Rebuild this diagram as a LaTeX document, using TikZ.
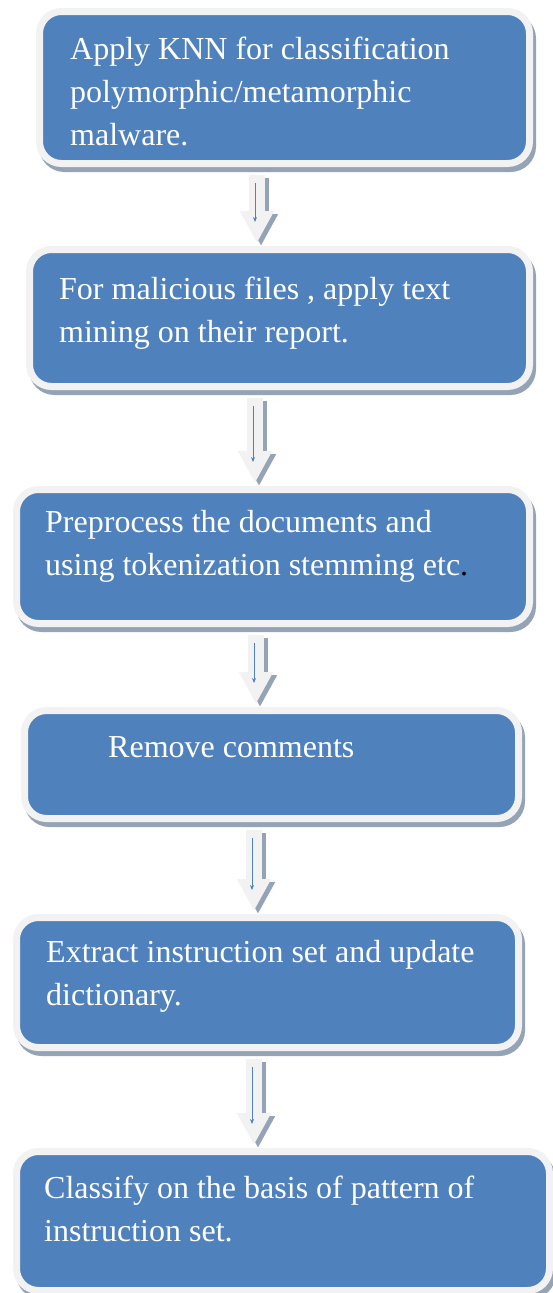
\documentclass[tikz,border=0pt]{standalone}
\usepackage{fontspec}
\setmainfont{Liberation Serif}
\usetikzlibrary{arrows.meta}
\definecolor{boxblue}{HTML}{4F81BD}
\definecolor{rimgray}{HTML}{F2F2F2}
\definecolor{shadegray}{HTML}{95A3B6}
\tikzset{stepbox/.style={rectangle,rounded corners=22pt,draw=rimgray,line width=7pt,fill=boxblue,
		 preaction={draw=shadegray,fill=shadegray,transform canvas={xshift=3pt,yshift=-5pt}}}}
\tikzset{steptext/.style={text=white,font=\fontsize{32}{43}\selectfont,align=left,
		 inner sep=0pt,anchor=base west}} % base = last line
\tikzset{flowarrow/.style={line width=16pt,draw=#1,-{Triangle[width=32pt,length=32pt]}},
		 flowarrow/.default=rimgray}
\tikzset{flowline/.style={line width=1pt,draw=boxblue,-{Stealth[length=5pt,width=4pt]}}}

\begin{document}
\begin{tikzpicture}[x=1pt,y=-1pt]
	\useasboundingbox (0,0) rectangle (552,1293);
	% boxes
	\node[stepbox,minimum width=490pt,minimum height=152pt] (b1) at (284.5,87.5) {};
	\node[stepbox,minimum width=500pt,minimum height=137pt] (b2) at (279.5,318) {};
	\node[stepbox,minimum width=513pt,minimum height=134pt] (b3) at (273,556.5) {};
	\node[stepbox,minimum width=494pt,minimum height=108pt] (b4) at (271.5,764.5) {};
	\node[stepbox,minimum width=502pt,minimum height=130pt] (b5) at (267.5,982.5) {};
	\node[stepbox,minimum width=533pt,minimum height=139pt] (b6) at (283,1221) {};
	% texts
	\node[steptext] (t1) at (70,145) {Apply KNN for classification\\polymorphic/metamorphic\\malware.};
	\node[steptext] (t2) at (59,342) {For malicious files , apply text\\mining on their report.};
	\node[steptext] (t3) at (45,575) {Preprocess the documents and\\using tokenization stemming etc{\color{black}.}};
	\node[steptext] (t4) at (108,757) {Remove comments};
	\node[steptext] (t5) at (46,1005) {Extract instruction set and update\\dictionary.};
	\node[steptext] (t6) at (44,1241) {Classify on the basis of pattern of\\instruction set.};
	% arrows
	\foreach \from/\to/\ax in {b1/b2/257,b2/b3/255,b3/b4/256,b4/b5/254,b5/b6/254}{
		\draw[flowarrow=shadegray,transform canvas={xshift=4pt,yshift=-3pt}]
			([yshift=-8pt]\from.south -| \ax,0) -- ([yshift=3pt]\to.north -| \ax,0);
		\draw[flowarrow] ([yshift=-8pt]\from.south -| \ax,0) -- ([yshift=3pt]\to.north -| \ax,0);
		\draw[flowline] ([yshift=-16pt]\from.south -| \ax-2,0) -- ([yshift=24pt]\to.north -| \ax-2,0);
	}
\end{tikzpicture}
\end{document}
